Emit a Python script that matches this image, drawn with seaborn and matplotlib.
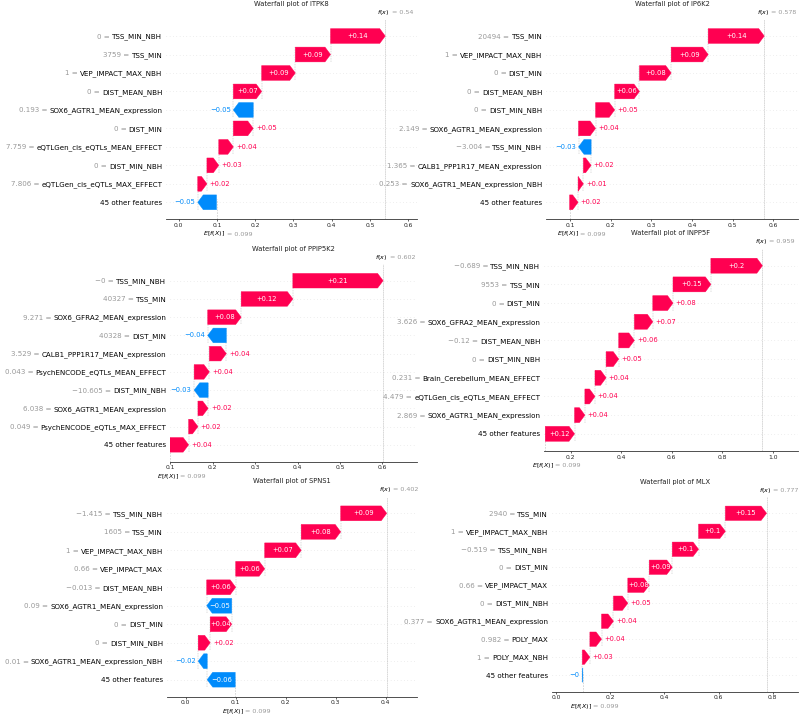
import re
import numpy as np
import matplotlib
matplotlib.use("Agg")
import matplotlib.pyplot as plt
import seaborn as sns
from matplotlib.ticker import MultipleLocator

# ---------------- data ----------------
base_value = 0.099

itpk8_names = ["TSS_MIN_NBH", "TSS_MIN", "VEP_IMPACT_MAX_NBH", "DIST_MEAN_NBH",
               "SOX6_AGTR1_MEAN_expression", "DIST_MIN", "eQTLGen_cis_eQTLs_MEAN_EFFECT",
               "DIST_MIN_NBH", "eQTLGen_cis_eQTLs_MAX_EFFECT", "45 other features"]
itpk8_feature_values = ["0", "3759", "1", "0", "0.193", "0", "7.759", "0", "7.806", ""]
itpk8_shap = [0.143, 0.092, 0.088, 0.074, -0.052, 0.052, 0.038, 0.031, 0.024, -0.049]

ip6k2_names = ["TSS_MIN", "VEP_IMPACT_MAX_NBH", "DIST_MIN", "DIST_MEAN_NBH", "DIST_MIN_NBH",
               "SOX6_AGTR1_MEAN_expression", "TSS_MIN_NBH", "CALB1_PPP1R17_MEAN_expression",
               "SOX6_AGTR1_MEAN_expression_NBH", "45 other features"]
ip6k2_feature_values = ["20494", "1", "0", "0", "0", "2.149", "\u22123.004", "1.365", "0.253", ""]
ip6k2_shap = [0.138, 0.091, 0.078, 0.061, 0.047, 0.042, -0.031, 0.019, 0.013, 0.021]

ppip5k2_names = ["TSS_MIN_NBH", "TSS_MIN", "SOX6_GFRA2_MEAN_expression", "DIST_MIN",
                 "CALB1_PPP1R17_MEAN_expression", "PsychENCODE_eQTLs_MEAN_EFFECT", "DIST_MIN_NBH",
                 "SOX6_AGTR1_MEAN_expression", "PsychENCODE_eQTLs_MAX_EFFECT", "45 other features"]
ppip5k2_feature_values = ["\u22120", "40327", "9.271", "40328", "3.529", "0.043", "\u221210.605",
                          "6.038", "0.049", ""]
ppip5k2_shap = [0.213, 0.122, 0.079, -0.044, 0.040, 0.036, -0.033, 0.024, 0.022, 0.044]

inpp5f_names = ["TSS_MIN_NBH", "TSS_MIN", "DIST_MIN", "SOX6_GFRA2_MEAN_expression", "DIST_MEAN_NBH",
                "DIST_MIN_NBH", "Brain_Cerebellum_MEAN_EFFECT", "eQTLGen_cis_eQTLs_MEAN_EFFECT",
                "SOX6_AGTR1_MEAN_expression", "45 other features"]
inpp5f_feature_values = ["\u22120.689", "9553", "0", "3.626", "\u22120.12", "0", "0.231", "4.479", "2.869", ""]
inpp5f_shap = [0.204, 0.150, 0.080, 0.073, 0.062, 0.050, 0.044, 0.040, 0.041, 0.116]

spns1_names = ["TSS_MIN_NBH", "TSS_MIN", "VEP_IMPACT_MAX_NBH", "VEP_IMPACT_MAX", "DIST_MEAN_NBH",
               "SOX6_AGTR1_MEAN_expression", "DIST_MIN", "DIST_MIN_NBH",
               "SOX6_AGTR1_MEAN_expression_NBH", "45 other features"]
spns1_feature_values = ["\u22121.415", "1605", "1", "0.66", "\u22120.013", "0.09", "0", "0", "0.01", ""]
spns1_shap = [0.092, 0.079, 0.073, 0.058, 0.058, -0.050, 0.043, 0.024, -0.018, -0.056]

mlx_names = ["TSS_MIN", "VEP_IMPACT_MAX_NBH", "TSS_MIN_NBH", "DIST_MIN", "VEP_IMPACT_MAX",
             "DIST_MIN_NBH", "SOX6_AGTR1_MEAN_expression", "POLY_MAX", "POLY_MAX_NBH",
             "45 other features"]
mlx_feature_values = ["2940", "1", "\u22120.519", "0", "0.66", "0", "0.377", "0.982", "1", ""]
mlx_shap = [0.152, 0.099, 0.097, 0.085, 0.079, 0.053, 0.044, 0.043, 0.028, -0.002]

genes = ["ITPK8", "IP6K2", "PPIP5K2", "INPP5F", "SPNS1", "MLX"]

# ---------------- style / layout ----------------
sns.set_style("white")
plt.rcParams["font.family"] = ["DejaVu Sans"]
plt.rcParams["mathtext.fontset"] = "dejavusans"

RED = "#ff0051"
BLUE = "#008bfb"
GRAY = "#999999"
W, H = 800, 716
HEAD_PX = 5.5
YLAB_FS = 5.15
YLAB_PAD = 2.6
BAR_FS = 4.9
TICK_FS = 4.3
EF_FS = 4.6
TITLE_FS = 4.9

# (left, right, top, bottom) in pixels, xlim, tick step
layout = [
    ((166, 417, 19.4, 219.3), (-0.033, 0.623), 0.1),
    ((546, 798, 19.4, 219.3), (0.041, 0.661), 0.1),
    ((170, 417, 264.3, 461.6), (0.099, 0.682), 0.1),
    ((544, 798, 248.9, 451.0), (0.094, 1.100), 0.2),
    ((166.7, 417, 496.7, 696.7), (-0.038, 0.4626), 0.1),
    ((551.7, 798, 497.1, 691.7), (-0.016, 0.893), 0.2),
]


def fmt(v, f):
    s = f % v
    s = re.sub(r"\.?0+$", "", s)
    if s[0] == "-":
        s = "\u2212" + s[1:]
    return s


fig = plt.figure(figsize=(W / 100, H / 100), dpi=100)
fig.patch.set_facecolor("white")
renderer = fig.canvas.get_renderer()


def text_width(ax, s, fs):
    t = ax.text(0, 0, s, fontsize=fs)
    w = t.get_window_extent(renderer).width
    t.remove()
    return w


def waterfall(box, xlim, step, title, names, fvals, shap):
    l, r, t, b = box
    ax = fig.add_axes([l / W, 1 - b / H, (r - l) / W, (b - t) / H])
    n = len(names)
    rows = np.arange(n)[::-1]
    fx = base_value + float(np.sum(shap))
    ax.set_xlim(*xlim)
    ax.set_ylim(-0.92, n - 0.1)
    ppu = ax.bbox.width / (xlim[1] - xlim[0])
    hl = HEAD_PX / ppu
    pad = 2.7 / ppu

    for rr in rows:
        ax.axhline(rr, color="#cccccc", lw=0.4, dashes=(1, 5), zorder=-1)

    loc = fx
    for i, (rr, s) in enumerate(zip(rows, shap)):
        loc -= s
        if i < n - 1:
            ax.plot([loc, loc], [rr - 1 - 0.4, rr + 0.4], color="#bbbbbb",
                    ls=(0, (3, 2)), lw=0.35, zorder=-1)
        if s >= 0:
            arr = ax.arrow(loc, rr, max(s - hl, 1e-6), 0, head_length=min(s, hl),
                           width=0.8, head_width=0.8, color=RED, lw=0.3)
        else:
            arr = ax.arrow(loc, rr, -max(-s - hl, 1e-6), 0, head_length=min(-s, hl),
                           width=0.8, head_width=0.8, color=BLUE, lw=0.3)
        lab = fmt(s, "%+0.02f")
        txt = ax.text(loc + s / 2, rr, lab, ha="center", va="center",
                      color="white", fontsize=BAR_FS)
        if txt.get_window_extent(renderer).width > arr.get_window_extent(renderer).width:
            txt.remove()
            if s >= 0:
                ax.text(loc + s + pad, rr, lab, ha="left", va="center",
                        color=RED, fontsize=BAR_FS)
            else:
                ax.text(loc + s - pad, rr, lab, ha="right", va="center",
                        color=BLUE, fontsize=BAR_FS)

    ax.axvline(base_value, 0, 1 / n, color="#bbbbbb", ls=(0, (3, 2)), lw=0.4, zorder=-1)
    ax.axvline(fx, 0, 1, color="#bbbbbb", ls=(0, (3, 1)), lw=0.4, zorder=-1)

    # y labels: black feature names as tick labels, gray "value =" in front
    ax.set_yticks(list(rows))
    ax.set_yticklabels(list(names), fontsize=YLAB_FS, color="black")
    ax.tick_params(axis="y", left=False, length=0, pad=YLAB_PAD)
    pad_px = YLAB_PAD * 100 / 72
    space_px = text_width(ax, "a a", YLAB_FS) - text_width(ax, "aa", YLAB_FS)
    for rr, v, nm in zip(rows, fvals, names):
        if not v:
            continue
        w = text_width(ax, nm, YLAB_FS)
        ax.annotate(f"{v} =", xy=(0, rr), xycoords=("axes fraction", "data"),
                    xytext=(-(pad_px + w + space_px), 0), textcoords="offset pixels",
                    ha="right", va="center_baseline", fontsize=YLAB_FS, color=GRAY,
                    annotation_clip=False)

    ax.xaxis.set_major_locator(MultipleLocator(step))
    ax.tick_params(axis="x", bottom=True, length=1.6, width=0.5, pad=1.0,
                   labelsize=TICK_FS, colors="#222222")
    sns.despine(ax=ax, left=True, top=True, right=True)
    ax.spines["bottom"].set_linewidth(0.6)
    ax.spines["bottom"].set_color("#333333")
    ax.set_facecolor("none")

    kw = dict(textcoords="offset pixels", va="center", annotation_clip=False)
    ax.annotate("$E[f(X)]$", xy=(base_value, 0), xycoords=("data", "axes fraction"),
                xytext=(-2, -14.7), ha="center", fontsize=EF_FS, color="black", **kw)
    ax.annotate("= " + fmt(base_value, "%0.03f"), xy=(base_value, 0),
                xycoords=("data", "axes fraction"), xytext=(10, -14.7), ha="left",
                fontsize=EF_FS, color=GRAY, **kw)
    ax.annotate("$f(x)$", xy=(fx, 1), xycoords=("data", "axes fraction"),
                xytext=(-1.5, 7), ha="center", fontsize=EF_FS, color="black", **kw)
    ax.annotate("= " + fmt(fx, "%0.03f"), xy=(fx, 1), xycoords=("data", "axes fraction"),
                xytext=(6.5, 7), ha="left", fontsize=EF_FS, color=GRAY, **kw)
    ax.annotate(title, xy=(0.5, 1), xycoords="axes fraction", xytext=(0, 15.6),
                ha="center", fontsize=TITLE_FS, color="#222222", **kw)
    return ax


panels = [
    (itpk8_names, itpk8_feature_values, itpk8_shap),
    (ip6k2_names, ip6k2_feature_values, ip6k2_shap),
    (ppip5k2_names, ppip5k2_feature_values, ppip5k2_shap),
    (inpp5f_names, inpp5f_feature_values, inpp5f_shap),
    (spns1_names, spns1_feature_values, spns1_shap),
    (mlx_names, mlx_feature_values, mlx_shap),
]

for (box, xlim, step), gene, (nm, fv, sv) in zip(layout, genes, panels):
    waterfall(box, xlim, step, f"Waterfall plot of {gene}", nm, fv, sv)

fig.savefig("out.png", dpi=100, facecolor="white")
